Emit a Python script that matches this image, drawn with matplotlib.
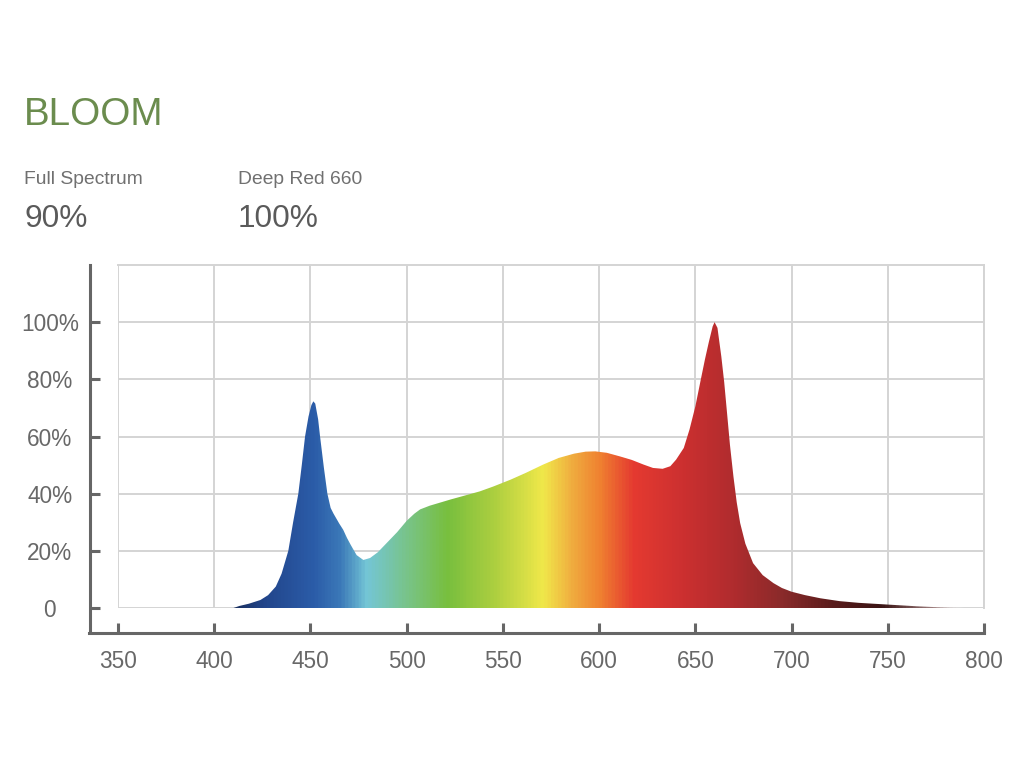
import numpy as np
import matplotlib
matplotlib.use('Agg')
import matplotlib.pyplot as plt
from matplotlib.colors import LinearSegmentedColormap

plt.rcParams['font.family'] = ['Liberation Sans', 'DejaVu Sans']

# spectrum (wavelength nm, relative %)
wavelength = [410, 413, 418, 424, 428, 432, 435, 438.5, 441, 443.7, 445.5, 447.2, 449, 450.5,
              451.5, 452.5, 454, 455, 457, 458.8, 460.5, 462, 465, 467, 469, 471, 474, 477.5,
              481, 485, 490, 495, 500, 504, 507, 512, 518, 523, 530, 538, 545, 554, 562, 571,
              579, 587, 593, 598, 604, 611, 617, 623, 628, 633, 637, 640, 644, 647, 650, 652.5,
              655, 657, 659, 660, 661.5, 663.5, 665, 666.3, 668, 669.8, 671.5, 673.3, 676, 680,
              685, 690.6, 695, 700, 707, 715, 725, 735, 750, 765, 775, 790]
intensity = [0, 0.7, 1.5, 2.8, 4.5, 7.5, 12, 20, 30, 40, 50, 60, 67, 71,
             72.3, 71.5, 66, 60, 49, 40, 35, 33, 29.5, 27.4, 24.5, 22, 18.5, 16.8,
             17.5, 19.5, 23, 26.5, 30.5, 33, 34.5, 35.8, 37, 38, 39.3, 40.8, 42.5, 44.9, 47.3, 50.2,
             52.5, 54, 54.7, 54.8, 54.3, 53, 51.8, 50.2, 49, 48.7, 49.6, 51.9, 56, 62.5, 70.5, 78.8,
             87, 93, 98.5, 100, 98, 88, 79, 69.5, 57, 46, 37, 29.7, 22.5, 15.7,
             11.5, 8.7, 7, 5.7, 4.5, 3.4, 2.4, 1.8, 1.2, 0.6, 0.3, 0]

# colour stops of the fill along the wavelength axis
stop_nm = [350, 410, 425, 451, 465, 479, 498, 521, 547, 571, 585, 601, 618, 644, 670, 696, 722, 748, 775, 790, 800]
stop_col = ['#1a3060', '#1a3060', '#22458a', '#2b5ca8', '#3b78b8', '#74c6d6', '#78c490', '#78bf3e',
            '#b0d040', '#f0e84a', '#f0b040', '#ef7f30', '#e53a30', '#cc3030', '#b02c2e', '#8a2a2a',
            '#5a1c1c', '#3a1414', '#a08080', '#ffffff', '#ffffff']

xticks = [350, 400, 450, 500, 550, 600, 650, 700, 750, 800]
yticks = [0, 20, 40, 60, 80, 100]
ylabels = ['0', '20%', '40%', '60%', '80%', '100%']

fig = plt.figure(figsize=(10.24, 7.68), dpi=100)
ax = fig.add_axes([118/1024, 1-608/768, 866/1024, 343/768])

cmap = LinearSegmentedColormap.from_list('spec', [((n-350)/450, c) for n, c in zip(stop_nm, stop_col)])
grad = np.linspace(350, 800, 1000).reshape(1, -1)
im = ax.imshow(grad, extent=[350, 800, 0, 120], aspect='auto', cmap=cmap, vmin=350, vmax=800,
               origin='lower', zorder=2, interpolation='bilinear')
area = ax.fill_between(wavelength, intensity, 0, color='none', lw=0)
im.set_clip_path(area.get_paths()[0], transform=ax.transData)

ax.set_xlim(350, 800)
ax.set_ylim(0, 120)
ax.set_xticks(xticks)
ax.set_yticks(yticks)
ax.set_yticklabels(ylabels)
ax.grid(True, color='#d4d4d4', lw=1.4)
ax.set_axisbelow(True)

for s in ['top', 'right']:
    ax.spines[s].set_color('#d4d4d4')
    ax.spines[s].set_linewidth(1.4)
ax.spines['left'].set_position(('outward', 28*0.72))
ax.spines['bottom'].set_position(('outward', 25*0.72))
ax.spines['left'].set_bounds(-8.4, 120)
ax.spines['bottom'].set_bounds(334.8, 800)
for s in ['left', 'bottom']:
    ax.spines[s].set_color('#666666')
    ax.spines[s].set_linewidth(2.2)

ax.tick_params(direction='in', length=7.5, width=2.2, color='#666666', labelcolor='#686868', labelsize=16.3)
ax.tick_params(axis='y', pad=29)
ax.tick_params(axis='x', pad=12)
for lbl in ax.get_yticklabels():
    lbl.set_ha('center')

fig.text(24/1024, 1-125/768, 'BLOOM', fontsize=27.8, color='#6b8c4e', va='baseline')
fig.text(24/1024, 1-184/768, 'Full Spectrum', fontsize=13.9, color='#707070', va='baseline')
fig.text(24/1024, 1-227/768, '90%', fontsize=22.8, color='#5a5a5a', va='baseline')
fig.text(238/1024, 1-184/768, 'Deep Red 660', fontsize=13.9, color='#707070', va='baseline')
fig.text(238/1024, 1-227/768, '100%', fontsize=22.8, color='#5a5a5a', va='baseline')

fig.savefig('out.png', dpi=100)
